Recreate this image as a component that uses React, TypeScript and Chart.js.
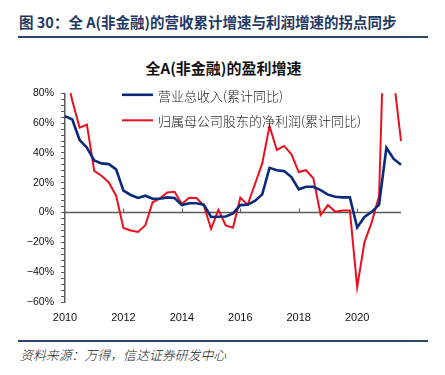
import React, { useEffect, useRef } from 'react';
import { Chart, registerables } from 'chart.js';

Chart.register(...registerables);

const quarters = [
  '2010Q1', '2010Q2', '2010Q3', '2010Q4',
  '2011Q1', '2011Q2', '2011Q3', '2011Q4',
  '2012Q1', '2012Q2', '2012Q3', '2012Q4',
  '2013Q1', '2013Q2', '2013Q3', '2013Q4',
  '2014Q1', '2014Q2', '2014Q3', '2014Q4',
  '2015Q1', '2015Q2', '2015Q3', '2015Q4',
  '2016Q1', '2016Q2', '2016Q3', '2016Q4',
  '2017Q1', '2017Q2', '2017Q3', '2017Q4',
  '2018Q1', '2018Q2', '2018Q3', '2018Q4',
  '2019Q1', '2019Q2', '2019Q3', '2019Q4',
  '2020Q1', '2020Q2', '2020Q3', '2020Q4',
  '2021Q1', '2021Q2', '2021Q3',
];

const revenueGrowth = [
  64.7, 62.4, 48.7, 43.5,
  35, 33, 32.5, 29,
  14.7, 11.8, 9.8, 11.3,
  9.3, 9.3, 10.2, 9.8,
  5, 6.2, 6.2, 5.3,
  -3, -2.8, -2.6, -0.6,
  5, 5.3, 7.8, 12.2,
  30, 28.4, 27.8, 23.8,
  15.6, 17.3, 17.3, 15,
  12, 10.6, 10.2, 10.2,
  -10, -3, 0.5, 5.3,
  43.5, 36, 32,
];

const profitGrowth = [
  97, 75, 57, 59,
  28, 24.7, 20.2, 11.3,
  -10.4, -12, -13, -8.5,
  6.9, 9.5, 13.5, 14,
  5.8, 10, 9.8, 4.7,
  -10.9, 1.8, -8.7, -10.2,
  10, 5.2, 19, 33,
  58, 42, 44.7, 39.1,
  27.2, 28.4, 23, -1.5,
  5, 0.5, 1.3, 1.3,
  -50, -19.8, -6.4, 11.3,
  180, 90, 48,
];

const yearTickLabels = ['2010', '2012', '2014', '2016', '2018', '2020'];
const seriesNames = ['营业总收入(累计同比)', '归属母公司股东的净利润(累计同比)'];
const seriesColors = ['#0c2a7c', '#e8111f'];
const seriesWidths = [2.6, 2];

const AXIS_COLOR = '#5a5a5a';
const CJK = '"Noto Sans CJK SC", "Noto Sans", sans-serif';

export default function App() {
  const canvasRef = useRef<HTMLCanvasElement>(null);

  useEffect(() => {
    const canvas = canvasRef.current;
    if (!canvas) return;

    const overlay = {
      id: 'overlay',
      beforeDatasetsDraw(chart: any) {
        const { ctx, chartArea, scales } = chart;
        const y0 = scales.y.getPixelForValue(0);
        ctx.save();
        ctx.strokeStyle = AXIS_COLOR;
        ctx.lineWidth = 1.5;
        ctx.beginPath();
        ctx.moveTo(chartArea.left, y0);
        ctx.lineTo(chartArea.right, y0);
        ctx.stroke();
        ctx.lineWidth = 1;
        quarters.forEach((q, i) => {
          if (i > 0 && q.endsWith('Q1') && yearTickLabels.includes(q.slice(0, 4))) {
            const x = Math.round(scales.x.getPixelForValue(i)) + 0.5;
            ctx.beginPath();
            ctx.moveTo(x, y0 - 4);
            ctx.lineTo(x, y0);
            ctx.stroke();
          }
        });
        ctx.restore();
      },
      afterDatasetsDraw(chart: any) {
        const { ctx, chartArea } = chart;
        ctx.save();
        const x0 = chartArea.left + 57;
        const x1 = chartArea.left + 88;
        const rows = [chartArea.top + 1.5, chartArea.top + 27];
        seriesNames.forEach((name, i) => {
          ctx.strokeStyle = seriesColors[i];
          ctx.lineWidth = seriesWidths[i];
          ctx.beginPath();
          ctx.moveTo(x0, rows[i]);
          ctx.lineTo(x1, rows[i]);
          ctx.stroke();
          ctx.fillStyle = '#222';
          ctx.font = `300 13px ${CJK}`;
          ctx.textBaseline = 'middle';
          ctx.textAlign = 'left';
          ctx.fillText(name, x1 + 5, rows[i] + 1);
        });
        ctx.restore();
      },
    };

    const chart = new Chart(canvas, {
      type: 'line',
      data: {
        labels: quarters,
        datasets: [
          {
            label: seriesNames[0],
            data: revenueGrowth,
            borderColor: seriesColors[0],
            borderWidth: seriesWidths[0],
            pointRadius: 0,
            tension: 0,
          },
          {
            label: seriesNames[1],
            data: profitGrowth,
            borderColor: seriesColors[1],
            borderWidth: seriesWidths[1],
            pointRadius: 0,
            tension: 0,
          },
        ],
      },
      options: {
        animation: false,
        responsive: false,
        maintainAspectRatio: false,
        layout: { padding: { top: 12, right: 44, left: 0, bottom: 0 } },
        plugins: {
          legend: { display: false },
          title: { display: false },
          tooltip: { enabled: false },
        },
        scales: {
          x: {
            type: 'category',
            offset: false,
            grid: { display: false, drawTicks: false },
            border: { display: false },
            ticks: {
              autoSkip: false,
              maxRotation: 0,
              minRotation: 0,
              padding: 9,
              color: '#111',
              font: { family: '"Liberation Sans", Arial, sans-serif', size: 11 },
              callback: (_v: any, i: number) => {
                const q = quarters[i];
                return q.endsWith('Q1') && yearTickLabels.includes(q.slice(0, 4)) ? q.slice(0, 4) : '';
              },
            },
            afterFit: (scale: any) => {
              scale.height = 28;
            },
          },
          y: {
            min: -60,
            max: 80,
            grid: {
              drawOnChartArea: false,
              drawTicks: true,
              tickLength: 4,
              color: AXIS_COLOR,
            },
            border: { display: true, color: AXIS_COLOR, width: 1.5 },
            ticks: {
              stepSize: 4,
              maxTicksLimit: 100,
              autoSkip: false,
              padding: 7,
              color: '#111',
              font: { family: '"Liberation Sans", Arial, sans-serif', size: 10.5 },
              callback: (v: any) => {
                const n = Number(v);
                if (n % 20 !== 0) return '';
                return (n < 0 ? '\u2212' + Math.abs(n) : String(n)) + '%';
              },
            },
            afterFit: (scale: any) => {
              scale.width = 65;
            },
          },
        },
      },
      plugins: [overlay],
    });

    return () => chart.destroy();
  }, []);

  return (
    <div
      style={{
        position: 'fixed',
        left: 0,
        top: 0,
        width: 445,
        height: 375,
        background: '#fff',
        overflow: 'hidden',
      }}
    >
      <div
        style={{
          position: 'absolute',
          left: 19,
          top: 11,
          whiteSpace: 'nowrap',
          font: `bold 14.5px/22px ${CJK}`,
          color: '#1f3864',
        }}
      >
        图 30：全 A(非金融)的营收累计增速与利润增速的拐点同步
      </div>
      <div
        style={{
          position: 'absolute',
          left: 18,
          top: 36,
          width: 410,
          height: 2,
          background: '#2b4270',
        }}
      />
      <div
        style={{
          position: 'absolute',
          left: 0,
          top: 57,
          width: 447,
          textAlign: 'center',
          whiteSpace: 'nowrap',
          font: `bold 15px/22px ${CJK}`,
          color: '#111',
        }}
      >
        全A(非金融)的盈利增速
      </div>
      <canvas
        ref={canvasRef}
        width={445}
        height={250}
        style={{ position: 'absolute', left: 0, top: 80, width: 445, height: 250 }}
      />
      <div
        style={{
          position: 'absolute',
          left: 18,
          top: 340,
          width: 410,
          height: 2,
          background: '#2b4270',
        }}
      />
      <div
        style={{
          position: 'absolute',
          left: 20,
          top: 346,
          whiteSpace: 'nowrap',
          font: `italic 300 12.9px/18px ${CJK}`,
          color: '#222',
        }}
      >
        资料来源：万得，信达证券研发中心
      </div>
    </div>
  );
}
